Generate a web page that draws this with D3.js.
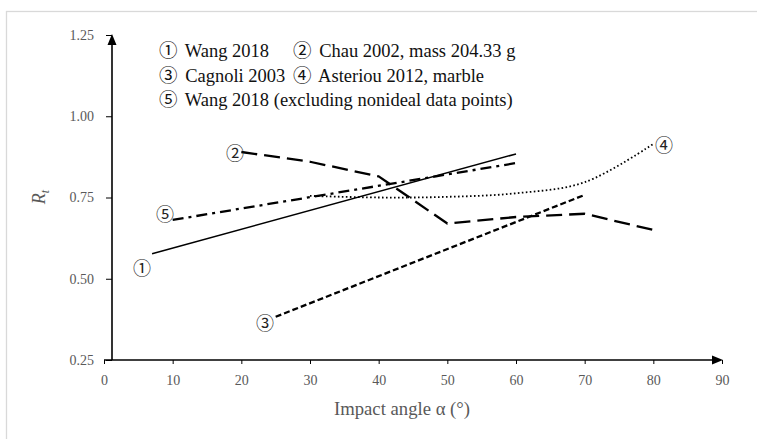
<!DOCTYPE html>
<html>
<head>
<meta charset="utf-8">
<script src="https://cdn.jsdelivr.net/npm/d3@7"></script>
<style>
  html, body { margin: 0; padding: 0; background: #fff; }
  svg { display: block; }
  .serif { font-family: "Liberation Serif", "Times New Roman", "Noto Sans CJK SC", serif; }
</style>
</head>
<body>
<svg id="chart" width="757" height="439"></svg>
<script>
// Restitution coefficient R_t versus impact angle, five sources
const xTicks = [0, 10, 20, 30, 40, 50, 60, 70, 80, 90];
const yTicks = [0.25, 0.50, 0.75, 1.00, 1.25];

const wangAngle = [7, 60];
const wangRt = [0.577, 0.884];

const chauAngle = [20, 30, 40, 50, 60, 70, 80];
const chauRt = [0.890, 0.860, 0.815, 0.670, 0.690, 0.700, 0.650];

const cagnoliAngle = [25, 70];
const cagnoliRt = [0.383, 0.758];

const asteriouAngle = [30, 40, 50, 60, 70, 80];
const asteriouRt = [0.755, 0.750, 0.752, 0.763, 0.797, 0.915];

const wangIdealAngle = [10, 60];
const wangIdealRt = [0.681, 0.856];

const legendRows = [
  [{ mark: "①", text: "Wang 2018" }, { mark: "②", text: "Chau 2002, mass 204.33  g" }],
  [{ mark: "③", text: "Cagnoli 2003" }, { mark: "④", text: "Asteriou 2012, marble" }],
  [{ mark: "⑤", text: "Wang 2018 (excluding nonideal data points)" }]
];

const svg = d3.select("#chart");
const x = d3.scaleLinear().domain([0, 90]).range([104, 722]);
const y = d3.scaleLinear().domain([0.25, 1.25]).range([360, 35]);
const axisX = 112; // the vertical axis sits just right of α = 0

// outer frame
svg.append("rect")
  .attr("x", 6.5).attr("y", 11.5)
  .attr("width", 760).attr("height", 440)
  .attr("fill", "none").attr("stroke", "#d9d9d9").attr("stroke-width", 1.3);

const tickColor = "#595959";

// y axis
const gy = svg.append("g")
  .attr("class", "serif")
  .attr("transform", `translate(${axisX},0)`)
  .call(d3.axisLeft(y).tickValues(yTicks).tickFormat(d3.format(".2f")).tickSize(6).tickPadding(12));
gy.select(".domain").remove();
gy.selectAll(".tick line").attr("stroke", "#000").attr("stroke-width", 1);
gy.selectAll(".tick text").attr("fill", tickColor).attr("font-size", 14)
  .attr("font-family", "Liberation Serif, serif");

// x axis
const gx = svg.append("g")
  .attr("class", "serif")
  .attr("transform", `translate(0,${y(0.25)})`)
  .call(d3.axisBottom(x).tickValues(xTicks).tickSize(4).tickPadding(11));
gx.select(".domain").remove();
gx.selectAll(".tick line").attr("stroke", "#000").attr("stroke-width", 1);
gx.selectAll(".tick text").attr("fill", tickColor).attr("font-size", 14)
  .attr("font-family", "Liberation Serif, serif");

// axis arrows
const y0 = y(0.25);
svg.append("line")
  .attr("x1", x(0)).attr("y1", y0).attr("x2", x(90) - 8).attr("y2", y0)
  .attr("stroke", "#000").attr("stroke-width", 1.6);
svg.append("path")
  .attr("d", `M${x(90) + 1},${y0} L${x(90) - 10},${y0 - 4.5} L${x(90) - 10},${y0 + 4.5} Z`)
  .attr("fill", "#000");
svg.append("line")
  .attr("x1", axisX).attr("y1", y0).attr("x2", axisX).attr("y2", y(1.25) + 8)
  .attr("stroke", "#000").attr("stroke-width", 1.6);
svg.append("path")
  .attr("d", `M${axisX},${y(1.25) - 1} L${axisX - 4.5},${y(1.25) + 10} L${axisX + 4.5},${y(1.25) + 10} Z`)
  .attr("fill", "#000");

// axis titles
svg.append("text")
  .attr("x", 402).attr("y", 415)
  .attr("text-anchor", "middle")
  .attr("font-family", "Liberation Serif, serif")
  .attr("font-size", 18.7).attr("fill", tickColor)
  .text("Impact angle α (°)");

const yTitle = svg.append("text")
  .attr("transform", "translate(45,197) rotate(-90)")
  .attr("text-anchor", "middle")
  .attr("font-family", "Liberation Serif, serif")
  .attr("font-size", 18).attr("fill", tickColor);
yTitle.append("tspan").attr("font-style", "italic").text("R");
yTitle.append("tspan").attr("font-style", "italic").attr("font-size", 12).attr("dy", 4).text("t");

// series
const line = d3.line().x(d => x(d[0])).y(d => y(d[1]));
const smooth = d3.line().x(d => x(d[0])).y(d => y(d[1])).curve(d3.curveCatmullRom.alpha(0.5));
const zip = (a, b) => a.map((v, i) => [v, b[i]]);

const series = [
  { pts: zip(wangAngle, wangRt), gen: line, width: 1.5, dash: null },
  { pts: zip(chauAngle, chauRt), gen: line, width: 2.3, dash: "16,7" },
  { pts: zip(cagnoliAngle, cagnoliRt), gen: line, width: 2.3, dash: "6,3" },
  { pts: zip(asteriouAngle, asteriouRt), gen: smooth, width: 1.8, dash: "1.6,2.4" },
  { pts: zip(wangIdealAngle, wangIdealRt), gen: line, width: 2.3, dash: "11,5,3,5" }
];

svg.append("g").selectAll("path")
  .data(series)
  .join("path")
  .attr("d", d => d.gen(d.pts))
  .attr("fill", "none")
  .attr("stroke", "#000")
  .attr("stroke-width", d => d.width)
  .attr("stroke-dasharray", d => d.dash)
  .attr("stroke-linecap", "butt")
  .attr("stroke-linejoin", "round");

// circled series markers beside the lines
const markerLabels = [
  { mark: "①", cx: 142, cy: 267 },
  { mark: "②", cx: 235, cy: 152 },
  { mark: "③", cx: 265, cy: 322 },
  { mark: "④", cx: 664, cy: 144 },
  { mark: "⑤", cx: 165, cy: 213 }
];
svg.append("g").selectAll("text")
  .data(markerLabels)
  .join("text")
  .attr("x", d => d.cx).attr("y", d => d.cy)
  .attr("text-anchor", "middle")
  .attr("dominant-baseline", "central")
  .attr("font-family", "Noto Sans CJK SC, sans-serif")
  .attr("font-size", 18).attr("fill", "#222")
  .text(d => d.mark);

// legend block
const legendX = [159, 293];
const legendBase = [57, 82, 106];
legendRows.forEach((row, r) => {
  row.forEach((item, c) => {
    const t = svg.append("text")
      .attr("x", legendX[c]).attr("y", legendBase[r])
      .attr("font-size", 18.5).attr("fill", "#111");
    t.append("tspan").attr("font-family", "Noto Sans CJK SC, sans-serif").text(item.mark);
    t.append("tspan").attr("font-family", "Liberation Serif, serif").attr("dx", 3).text(" " + item.text);
  });
});
</script>
</body>
</html>
